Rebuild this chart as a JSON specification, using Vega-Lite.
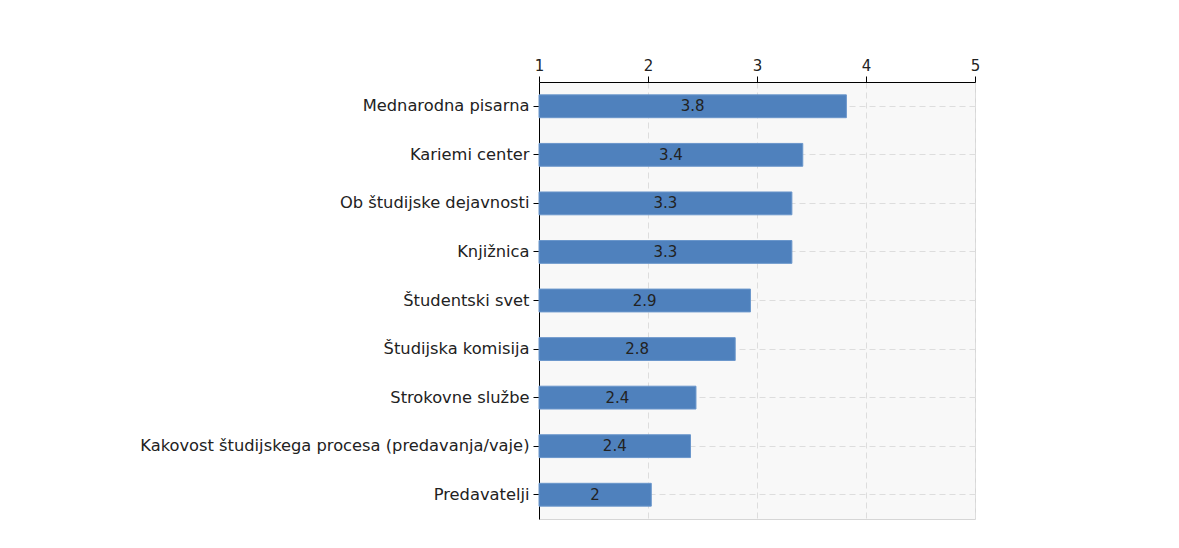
{
  "$schema": "https://vega.github.io/schema/vega-lite/v6.json",
  "width": 436,
  "height": 437,
  "autosize": {"type": "none"},
  "padding": {"left": 539, "top": 82, "right": 204, "bottom": 29},
  "background": "#ffffff",
  "config": {
    "font": "DejaVu Sans",
    "view": {"stroke": "#d6d6d6", "strokeWidth": 1, "fill": "#f8f8f8"}
  },
  "data": {
    "values": [
      {"kategorija": "Mednarodna pisarna", "ocena": 3.82},
      {"kategorija": "Kariemi center", "ocena": 3.42},
      {"kategorija": "Ob študijske dejavnosti", "ocena": 3.32},
      {"kategorija": "Knjižnica", "ocena": 3.32},
      {"kategorija": "Študentski svet", "ocena": 2.94},
      {"kategorija": "Študijska komisija", "ocena": 2.8},
      {"kategorija": "Strokovne službe", "ocena": 2.44},
      {"kategorija": "Kakovost študijskega procesa (predavanja/vaje)", "ocena": 2.39},
      {"kategorija": "Predavatelji", "ocena": 2.03}
    ]
  },
  "encoding": {
    "y": {
      "field": "kategorija",
      "type": "nominal",
      "sort": null,
      "scale": {"paddingInner": 0.53, "paddingOuter": 0.265},
      "axis": {
        "title": null,
        "labelFontSize": 16.3,
        "labelLimit": 0,
        "labelColor": "#222222",
        "labelPadding": 4,
        "tickSize": 6,
        "tickColor": "#000000",
        "domainColor": "#000000",
        "grid": true,
        "bandPosition": 0.5,
        "gridColor": "#dddddd",
        "gridDash": [6, 4]
      }
    }
  },
  "layer": [
    {
      "mark": {"type": "bar", "fill": "#4f81bd", "stroke": "#6a96cb", "strokeWidth": 1},
      "encoding": {
        "x": {
          "field": "ocena",
          "type": "quantitative",
          "scale": {"domain": [1, 5], "nice": false, "zero": false},
          "axis": {
            "orient": "top",
            "title": null,
            "values": [1, 2, 3, 4, 5],
            "format": "d",
            "labelFlush": false,
            "labelFontSize": 15,
            "labelColor": "#222222",
            "labelPadding": 3,
            "tickSize": 6,
            "tickColor": "#000000",
            "domainColor": "#000000",
            "grid": true,
            "gridColor": "#dddddd",
            "gridDash": [6, 4]
          }
        },
        "x2": {"datum": 1}
      }
    },
    {
      "transform": [{"calculate": "(datum.ocena + 1) / 2", "as": "sredina"}],
      "mark": {"type": "text", "fontSize": 15, "color": "#222222", "baseline": "middle", "align": "center"},
      "encoding": {
        "x": {"field": "sredina", "type": "quantitative"},
        "text": {"field": "ocena", "type": "quantitative", "format": ".2~r"}
      }
    }
  ]
}
